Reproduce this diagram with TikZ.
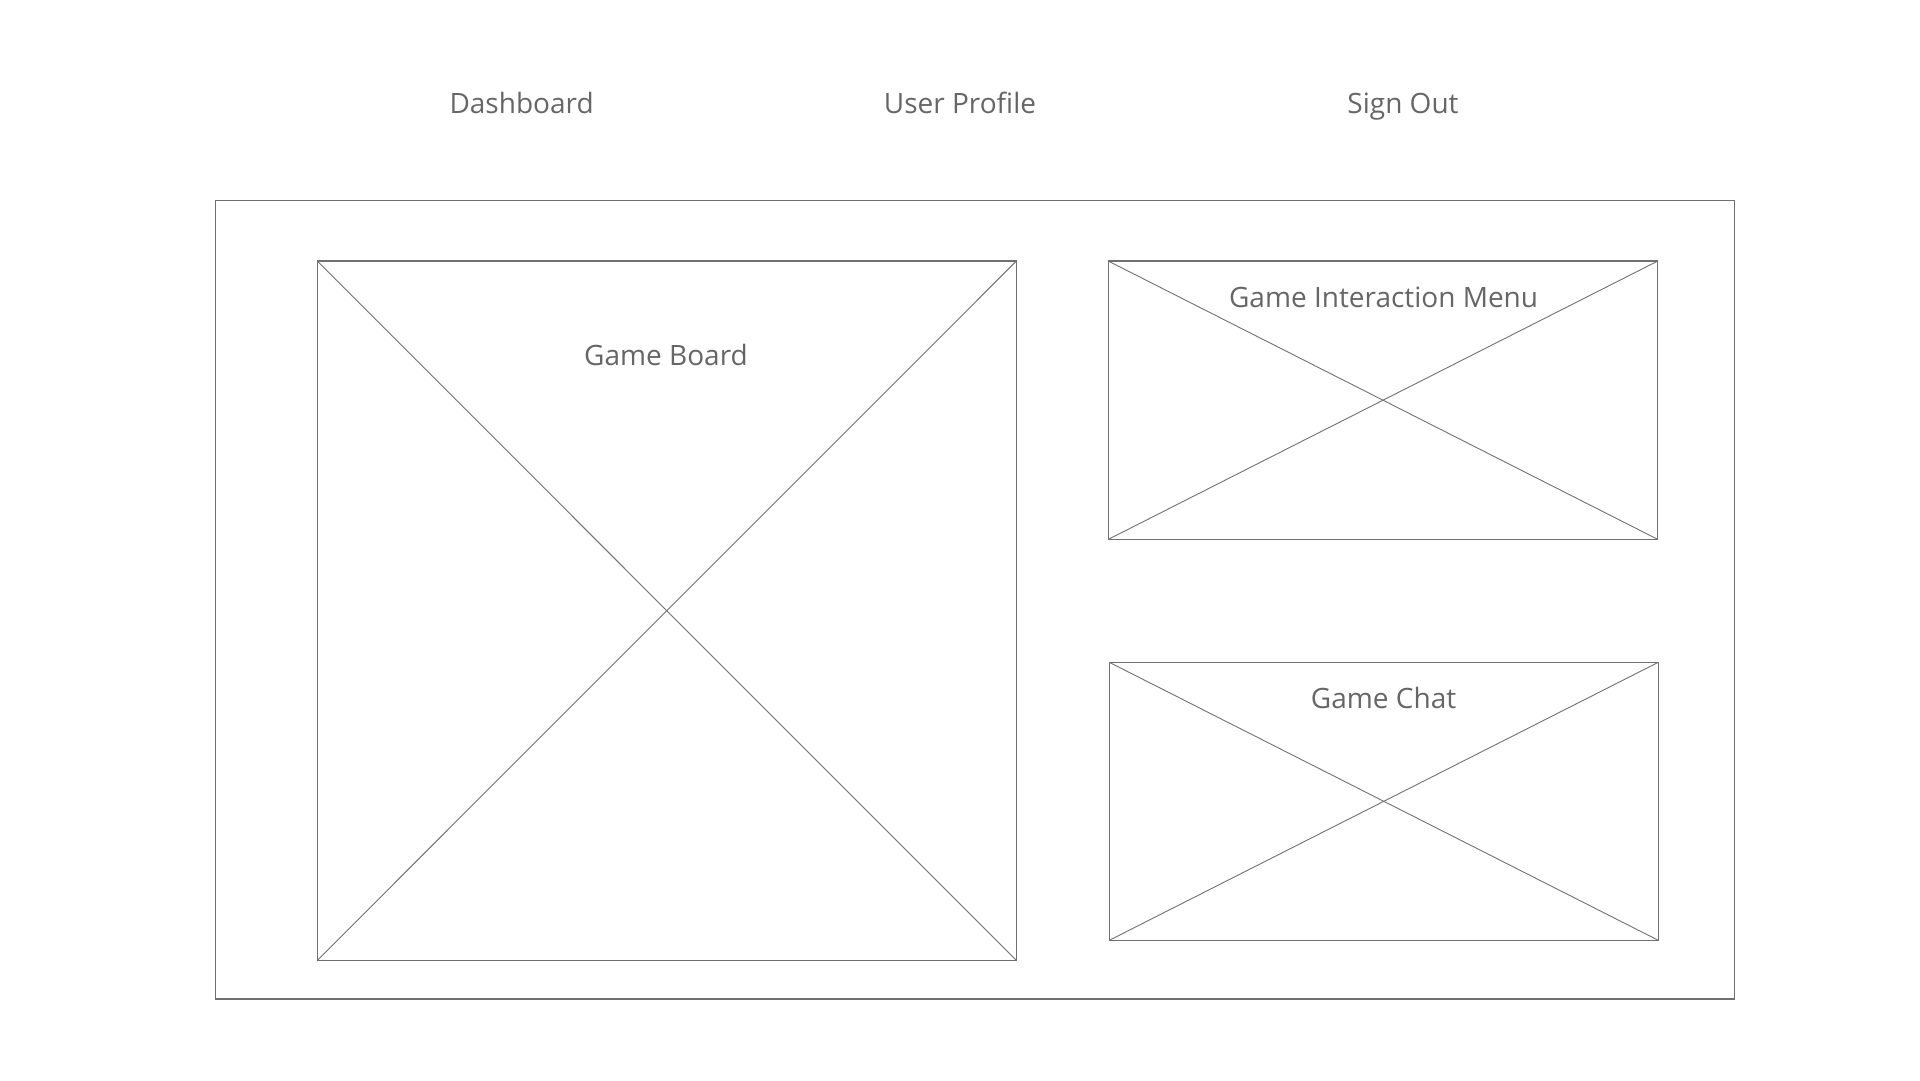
\documentclass[tikz,border=0pt]{standalone}
\usepackage{fontspec}
\setmainfont{Open Sans}
\definecolor{wline}{HTML}{707070}
\definecolor{wtext}{HTML}{666666}
\begin{document}
\begin{tikzpicture}[x=1pt,y=-1pt,
  frame/.style={draw=wline,line width=1.3pt,inner sep=0pt,outer sep=0pt},
  diag/.style={draw=wline,line width=0.9pt},
  lbl/.style={text=wtext,font=\fontsize{28}{32}\selectfont,inner sep=0pt,anchor=base}]
\useasboundingbox (0,0) rectangle (1920,1080);
\node[frame,minimum width=1519pt,minimum height=798.7pt] (outer) at (974.8,599.7) {};
\node[frame,minimum width=699pt,minimum height=699.3pt] (board) at (666.8,610.7) {};
\node[frame,minimum width=549.4pt,minimum height=278.3pt] (menu) at (1383,400.2) {};
\node[frame,minimum width=549pt,minimum height=278pt] (chat) at (1383.8,801.3) {};
\draw[diag] (board.north west) -- (board.south east);
\draw[diag] (board.north east) -- (board.south west);
\draw[diag] (menu.north west) -- (menu.south east);
\draw[diag] (menu.north east) -- (menu.south west);
\draw[diag] (chat.north west) -- (chat.south east);
\draw[diag] (chat.north east) -- (chat.south west);
\node[lbl] (dash) at (521.6,113) {Dashboard};
\node[lbl] (prof) at (960,113) {User Profile};
\node[lbl] (sign) at (1403,113) {Sign Out};
\node[lbl,fill=white] (tboard) at (666,365.5) {Game Board};
\node[lbl] (tmenu) at (1383.6,307.5) {Game Interaction Menu};
\node[lbl] (tchat) at (1383.6,708) {Game Chat};
\end{tikzpicture}
\end{document}
